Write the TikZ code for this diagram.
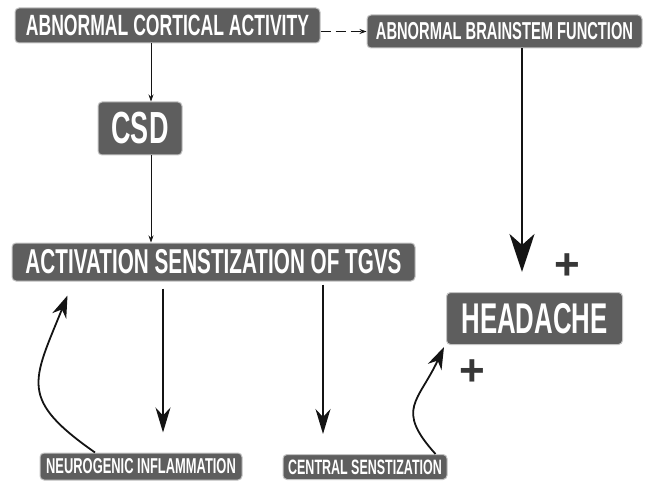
\documentclass[tikz,border=0pt]{standalone}
\usepackage{fontspec}
\newfontfamily\condfont[FakeStretch=0.6]{Liberation Sans}
\newfontfamily\plainsans{Liberation Sans}
\usetikzlibrary{positioning,arrows.meta,calc}
\definecolor{boxgray}{HTML}{5E5E5E}
\definecolor{rimgray}{HTML}{C4C4C4}
\definecolor{inkdark}{HTML}{141414}

\begin{document}
\begin{tikzpicture}[
    x=1pt, y=1pt,
    box/.style={rectangle, rounded corners=4pt, draw=rimgray, line width=1pt, fill=boxgray, text=white, inner sep=0pt, align=center},
    fs/.style={font=\condfont\bfseries\fontsize{#1}{#1}\selectfont},
    thinarrow/.style={draw=inkdark, line width=0.7pt, -{Stealth[length=7pt, width=5pt]}},
    midarrow/.style={draw=inkdark, line width=1.5pt, -{Stealth[length=25pt, width=15pt, inset=8pt]}},
    bigarrow/.style={draw=inkdark, line width=2.8pt, -{Stealth[length=38pt, width=25pt, inset=11pt]}},
    curvearrow/.style={draw=inkdark, line width=1.8pt, -{Stealth[length=22pt, width=15pt, inset=7pt]}},
    plus/.style={text=inkdark!85, font=\plainsans\bfseries\fontsize{44}{44}\selectfont, inner sep=0pt},
]
\useasboundingbox (0,0) rectangle (651,-484);

% Top row
\node[box, fs=29.3, minimum width=305pt, minimum height=35pt] (cortical) at (167.5,-25.5) {ABNORMAL CORTICAL ACTIVITY};
\node[box, fs=24.5, minimum width=275pt, minimum height=33pt] (brainstem) at (504.5,-31.5) {ABNORMAL BRAINSTEM FUNCTION};

% Middle
\node[box, fs=45, minimum width=84pt, minimum height=53pt] (csd) at (140,-128.5) {CSD};
\node[box, fs=34.5, minimum width=403pt, minimum height=38pt] (tgvs) at (213.5,-262) {ACTIVATION SENSTIZATION OF TGVS};
\node[box, fs=43, minimum width=176pt, minimum height=52pt] (headache) at (534.5,-318.5) {HEADACHE};

% Bottom labels
\node[box, fs=21.5, minimum width=202pt, minimum height=27pt] (neuro) at (141,-466.5) {NEUROGENIC INFLAMMATION};
\node[box, fs=20.8, minimum width=164pt, minimum height=25pt] (central) at (365,-467) {CENTRAL SENSTIZATION};

% Plus signs
\node[plus] (plusA) at (567,-267) {+};
\node[plus] (plusB) at (472,-373) {+};

% Connectors
\draw[thinarrow, dashed, dash pattern=on 10pt off 5pt] (cortical.east |- brainstem.west) -- (brainstem.west);
\draw[thinarrow] ([xshift=11pt]csd.north |- cortical.south) -- ([xshift=11pt]csd.north);
\draw[thinarrow] ([xshift=11pt]csd.south) -- ([xshift=11pt]csd.south |- tgvs.north);
\draw[bigarrow] ([xshift=-12.5pt]headache.north |- brainstem.south) -- ([xshift=-12.5pt,yshift=20pt]headache.north);
\draw[midarrow] ([xshift=22pt]neuro.north |- tgvs.south) ++(0,-7) -- ([xshift=22pt,yshift=20pt]neuro.north);
\draw[midarrow] ([xshift=-42pt]central.north |- tgvs.south) ++(0,-3) -- ([xshift=-42pt,yshift=20pt]central.north);

% Feedback curves
\draw[curvearrow] ([xshift=-46pt]neuro.north) to[out=145, in=248, looseness=1.5] ([xshift=56pt,yshift=-14pt]tgvs.south west);
\draw[curvearrow] ([xshift=-12pt]central.north east) to[out=132, in=245, looseness=1.45] ([xshift=-2pt,yshift=-2pt]headache.south west);

\end{tikzpicture}
\end{document}
